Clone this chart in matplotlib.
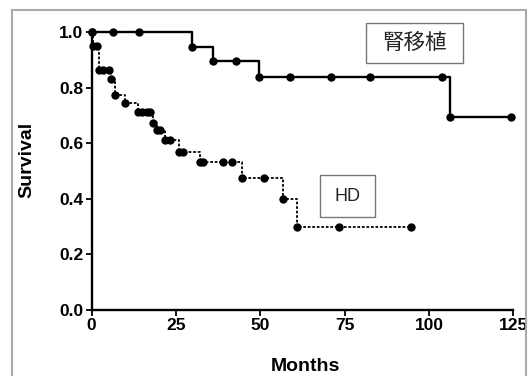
import matplotlib
matplotlib.use("Agg")
import matplotlib.pyplot as plt
from matplotlib.lines import Line2D
from matplotlib.patches import Rectangle

plt.rcParams['font.family'] = ['Liberation Sans', 'Noto Sans CJK JP', 'DejaVu Sans']

# Kaplan-Meier points (months, survival)
tx_months = [0, 6.3, 14.0, 29.8, 35.9, 42.8, 49.7, 58.7, 70.9, 82.5, 104.0, 106.3, 124.4]
tx_surv = [1.0, 1.0, 1.0, 0.947, 0.897, 0.897, 0.839, 0.839, 0.839, 0.839, 0.839, 0.695, 0.695]

hd_months = [0, 0.4, 1.5, 2.2, 3.3, 5.1, 5.6, 6.9, 9.8, 13.7, 14.9, 16.3, 17.2, 18.1,
             19.3, 20.2, 21.6, 23.1, 26.0, 27.0, 32.0, 32.9, 38.8, 41.7, 44.7, 51.2,
             56.8, 60.9, 73.3, 94.8]
hd_surv = [1.0, 0.95, 0.95, 0.864, 0.864, 0.864, 0.83, 0.773, 0.745, 0.712, 0.712, 0.712,
           0.712, 0.673, 0.647, 0.647, 0.612, 0.612, 0.568, 0.568, 0.532, 0.532, 0.532,
           0.532, 0.475, 0.475, 0.40, 0.30, 0.30, 0.30]

xticks = [0, 25, 50, 75, 100, 125]
yticks = [0.0, 0.2, 0.4, 0.6, 0.8, 1.0]

fig = plt.figure(figsize=(5.29, 3.76), dpi=100)
ax = fig.add_axes([0.1733, 0.1755, 0.797, 0.7394])

ax.step(tx_months, tx_surv, where='post', color='black', linewidth=1.7,
        marker='o', markersize=5, clip_on=False, zorder=3)
ax.step(hd_months, hd_surv, where='post', color='black', linewidth=1.3,
        linestyle=(0, (1.5, 1)), marker='o', markersize=5, clip_on=False, zorder=3)

ax.set_xlim(0, 125)
ax.set_ylim(0, 1.0)
ax.set_xticks(xticks)
ax.set_xticklabels([str(v) for v in xticks], fontweight='bold', fontsize=12.5)
ax.set_yticks(yticks)
ax.set_yticklabels([f"{v:.1f}" for v in yticks], fontweight='bold', fontsize=12.5)
ax.tick_params(direction='out', length=4, width=1.3, pad=2)

ax.spines['top'].set_visible(False)
ax.spines['right'].set_visible(False)
ax.spines['left'].set_linewidth(1.7)
ax.spines['bottom'].set_linewidth(1.7)

ax.set_xlabel("Months", fontweight='bold', fontsize=14)
ax.set_ylabel("Survival", fontweight='bold', fontsize=14)
ax.xaxis.set_label_coords(0.506, -0.172)
ax.yaxis.set_label_coords(-0.134, 0.54)

# label boxes
ax.add_patch(Rectangle((81.2, 0.887), 29.0, 0.144, facecolor='white', edgecolor='#777777',
                       linewidth=1.0, clip_on=False, zorder=4))
ax.text(95.7, 0.96, "腎移植", family=['Noto Sans CJK JP', 'DejaVu Sans'], fontsize=15.5,
        ha='center', va='center', color='#222222', zorder=5)
ax.add_patch(Rectangle((67.6, 0.336), 16.3, 0.150, facecolor='white', edgecolor='#777777',
                       linewidth=1.0, clip_on=False, zorder=4))
ax.text(75.9, 0.41, "HD", fontsize=13, ha='center', va='center', color='#222222', zorder=5)

# grey frame around the whole panel
x0, x1 = 12 / 529, 526 / 529
y1 = 1 - 10 / 376
fig.add_artist(Line2D([x0, x1], [y1, y1], color='#aaaaaa', linewidth=1.5, transform=fig.transFigure))
fig.add_artist(Line2D([x0, x0], [0, y1], color='#aaaaaa', linewidth=1.5, transform=fig.transFigure))
fig.add_artist(Line2D([x1, x1], [0, y1], color='#aaaaaa', linewidth=1.5, transform=fig.transFigure))

fig.savefig("out.png", dpi=100)
